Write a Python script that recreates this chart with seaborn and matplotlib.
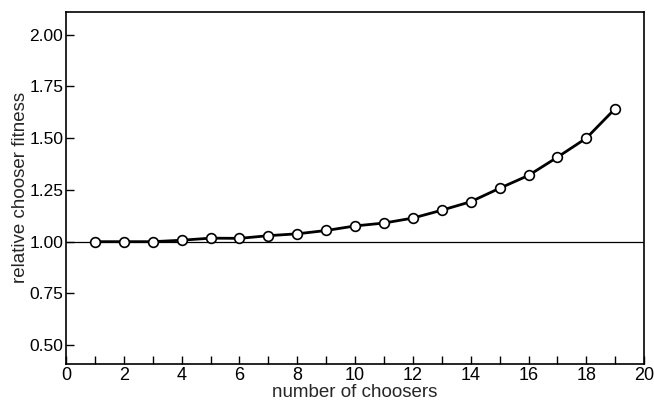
import numpy as np
import pandas as pd
import matplotlib
matplotlib.use("Agg")
import matplotlib.pyplot as plt
import seaborn as sns

# values
choosers = list(range(1, 20))
fitness = [1.00, 1.00, 1.00, 1.007, 1.017, 1.016, 1.029, 1.038, 1.054,
           1.076, 1.09, 1.114, 1.152, 1.193, 1.258, 1.32, 1.408, 1.50, 1.643]
x_ticks = list(range(0, 21, 2))
y_ticks = [0.50, 0.75, 1.00, 1.25, 1.50, 1.75, 2.00]

df = pd.DataFrame({"number of choosers": choosers, "relative chooser fitness": fitness})

sns.set_style("ticks")
plt.rcParams['font.family'] = ['Liberation Sans', 'DejaVu Sans']

fig, ax = plt.subplots(figsize=(6.54, 4.07), dpi=100)
fig.subplots_adjust(left=0.101, right=0.985, top=0.971, bottom=0.106)

ax.axhline(1.0, color="black", lw=0.9, zorder=1)
sns.lineplot(data=df, x="number of choosers", y="relative chooser fitness", ax=ax,
             color="black", lw=2, marker="o", markersize=7,
             markerfacecolor="white", markeredgecolor="black", markeredgewidth=1.2,
             zorder=3)

ax.set_xlim(0, 20)
ax.set_ylim(0.41, 2.11)
ax.set_xticks(x_ticks)
ax.set_xticks(range(0, 21), minor=True)
ax.set_yticks(y_ticks)
ax.set_yticklabels([f"{v:.2f}" for v in y_ticks])
ax.tick_params(axis="x", which="both", direction="in", length=6, width=1, labelsize=13, pad=2)
ax.tick_params(axis="y", direction="in", length=6, width=1, labelsize=12.5, pad=2)
ax.tick_params(axis="both", which="both", colors="black")
for s in ax.spines.values():
    s.set_visible(True)
    s.set_color("black")
    s.set_linewidth(1.2)
ax.set_xlabel("number of choosers", fontsize=13.5, labelpad=0)
ax.set_ylabel("relative chooser fitness", fontsize=13.5, labelpad=0)

fig.savefig("out.png", dpi=100)
